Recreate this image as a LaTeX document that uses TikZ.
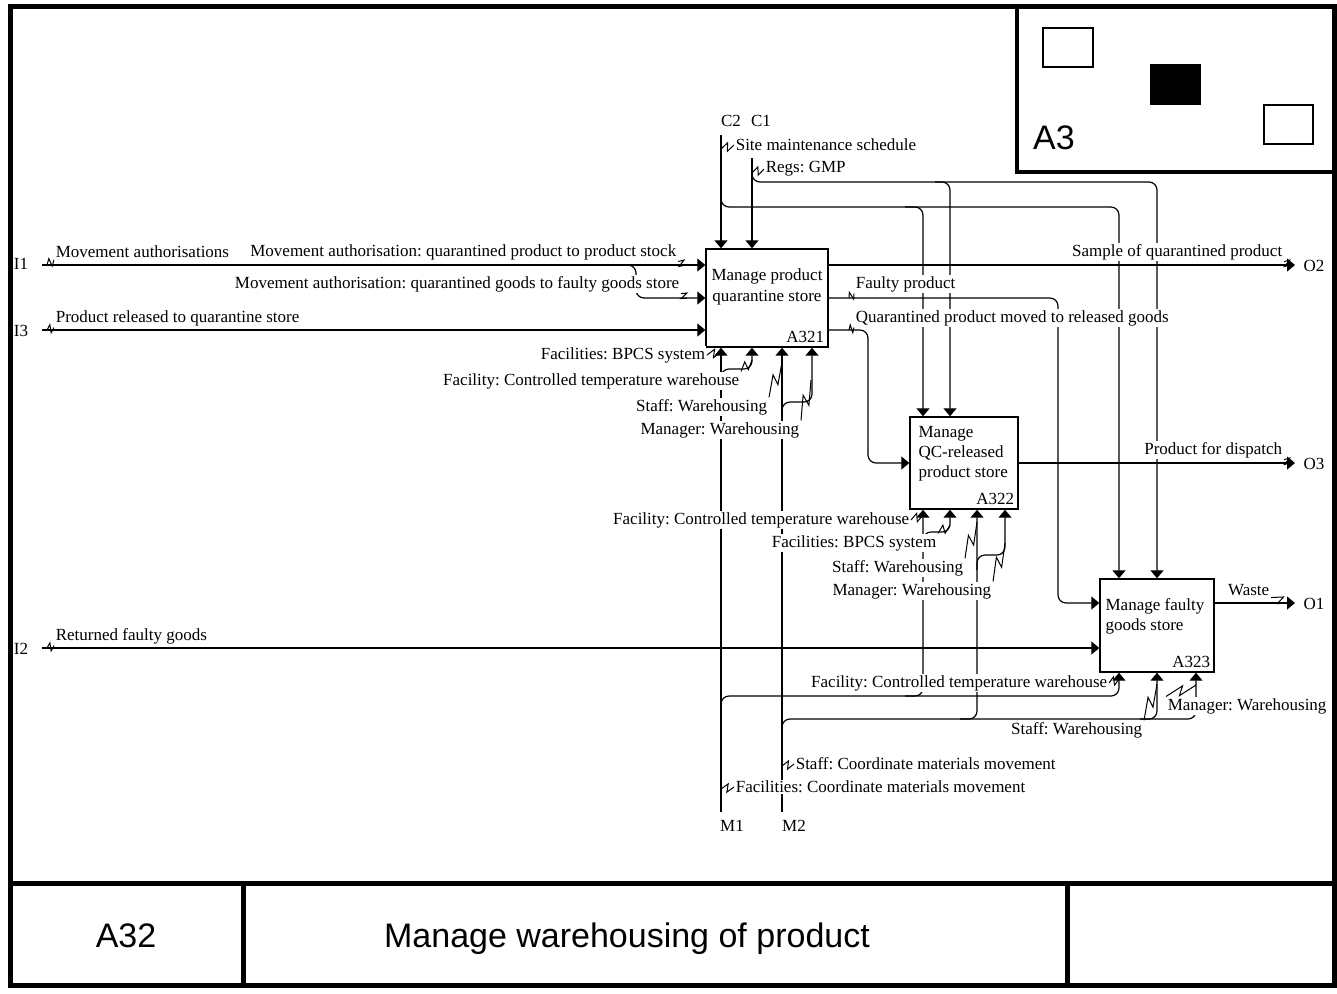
\documentclass[tikz,border=0pt]{standalone}
\usepackage{fontspec}
\setmainfont{Liberation Serif}
\newfontfamily\titlefont{Liberation Sans}
\usetikzlibrary{calc,arrows.meta}
\frenchspacing

\newcommand{\squig}[2]{\draw[line width=0.5pt] (#1) -- ($(#1)!0.6!(#2)!2pt!90:(#2)$) -- ($(#1)!0.4!(#2)!2pt!-90:(#2)$) -- (#2);}

\begin{document}
\begin{tikzpicture}[x=0.5pt,y=-0.5pt,line width=0.6pt,
  font=\fontsize{8.5}{10.5}\selectfont,
  proc/.style={draw,line width=0.7pt,inner sep=0pt},
  arr/.style={-{Triangle[length=4pt,width=6.5pt]}},
  lbl/.style={fill=white,inner sep=0.6pt},
  big/.style={font=\titlefont\fontsize{17}{20}\selectfont}]
  \useasboundingbox (0,0) rectangle (1337,993);
  % frame and title block
  \draw[line width=2.5pt] (10,6) rectangle (1334,985);
  \draw[line width=2.5pt] (10,883) -- (1334,883) (243,883) -- (243,985) (1067,883) -- (1067,985);
  \node[big,anchor=base] (num) at (126,947) {A32};
  \node[big,anchor=base] (title) at (627,947) {Manage warehousing of product};
  % parent diagram
  \draw[line width=2pt] (1017,6) -- (1017,172) -- (1334,172);
  \draw[line width=1pt] (1043,28) rectangle (1093,67) (1264,105) rectangle (1313,144);
  \fill (1150,64) rectangle (1201,105);
  \node[big] (parent) at (1054,138) {A3};

  % activities
  \node[proc,minimum width=61pt,minimum height=49pt] (a321) at (767,298) {};
  \node[proc,minimum width=54pt,minimum height=46pt] (a322) at (964,463) {};
  \node[proc,minimum width=57pt,minimum height=46.5pt] (a323) at (1157,625.5) {};
  \node[align=center] (t321) at (767,287) {Manage product\\quarantine store};
  \node[align=left,anchor=north west,inner sep=0pt,font=\fontsize{8.5}{10}\selectfont] (t322) at (918,426) {Manage\\QC-released\\product store};
  \node[align=left,anchor=north west,inner sep=0pt,font=\fontsize{8.5}{10}\selectfont] (t323) at (1105,598) {Manage faulty\\goods store};
  \node[anchor=south east,inner sep=2pt] (n321) at (a321.south east) {A321};
  \node[anchor=south east,inner sep=2pt] (n322) at (a322.south east) {A322};
  \node[anchor=south east,inner sep=2pt] (n323) at (a323.south east) {A323};

  % boundary ends
  \coordinate (i1) at (42,265);
  \coordinate (i3) at (42,330);
  \coordinate (i2) at (42,648);
  \coordinate (c2) at (721,135);
  \coordinate (c1) at (752,158);
  \coordinate (m1) at (721,812);
  \coordinate (m2) at (782,812);
  \coordinate (o2) at (1295,265);
  \coordinate (o3) at (1295,463);
  \coordinate (o1) at (1295,603);
  \node (li1) at (21,264) {I1};
  \node (li3) at (21,331) {I3};
  \node (li2) at (21,649) {I2};
  \node (lc2) at (731,121) {C2};
  \node (lc1) at (761,121) {C1};
  \node (lm1) at (732,826) {M1};
  \node (lm2) at (794,826) {M2};
  \node (lo2) at (1314,266) {O2};
  \node (lo3) at (1314,464) {O3};
  \node (lo1) at (1314,604) {O1};

  % inputs
  \draw[arr] (i1) -- (i1 -| a321.west);
  \draw[arr,rounded corners=4pt] (620,265) -| (636,298) -- (a321.west |- 0,298);
  \draw[arr] (i3) -- (i3 -| a321.west);
  \draw[arr] (i2) -- (i2 -| a323.west);
  % controls
  \draw[arr] (c2) -- (c2 |- a321.north);
  \draw[arr] (c1) -- (c1 |- a321.north);
  \draw[arr,rounded corners=4pt] (721,185) |- (1119,207) -- (a323.north -| 1119,0);
  \draw[arr,rounded corners=4pt] (905,207) -| (a322.north -| 923,0);
  \draw[arr,rounded corners=4pt] (752,165) |- (1157,182) -- (a323.north -| 1157,0);
  \draw[arr,rounded corners=4pt] (935,182) -| (a322.north -| 950,0);
  % outputs
  \draw[arr] (a321.east |- o2) -- (o2);
  \draw[arr,rounded corners=4pt] (a321.east |- 0,298) -| (1058,603) -- (a323.west |- 0,603);
  \draw[arr,rounded corners=4pt] (a321.east |- 0,330) -| (868,463) -- (a322.west |- 0,463);
  \draw[arr] (a322.east |- o3) -- (o3);
  \draw[arr] (a323.east |- o1) -- (o1);
  % mechanisms
  \draw[arr] (m1) -- (m1 |- a321.south);
  \draw[arr] (m2) -- (m2 |- a321.south);
  \draw[arr,rounded corners=4pt] (721,385) |- (752,369) -- (a321.south -| 752,0);
  \draw[arr,rounded corners=4pt] (782,412) |- (812,402) -- (a321.south -| 812,0);
  \draw[arr,rounded corners=4pt] (721,720) |- (1119,696) -- (a323.south -| 1119,0);
  \draw[arr,rounded corners=4pt] (905,696) -| (a322.south -| 923,0);
  \draw[arr,rounded corners=4pt] (923,548) |- (950,532) -- (a322.south -| 950,0);
  \draw[arr,rounded corners=4pt] (782,740) |- (1157,719) -- (a323.south -| 1157,0);
  \draw[arr,rounded corners=4pt] (960,719) -| (a322.south -| 977,0);
  \draw[arr,rounded corners=4pt] (977,570) |- (1005,555) -- (a322.south -| 1005,0);
  \draw[arr,rounded corners=4pt] (1140,719) -| (a323.south -| 1196,0);

  % arrow labels
  \node[lbl,anchor=west] (l1) at (54,252) {Movement authorisations};
  \node[lbl,anchor=east] (l2) at (678,252) {Movement authorisation: quarantined product to product stock};
  \node[lbl,anchor=east] (l3) at (681,284) {Movement authorisation: quarantined goods to faulty goods store};
  \node[lbl,anchor=west] (l4) at (54,318) {Product released to quarantine store};
  \node[lbl,anchor=west] (l5) at (54,636) {Returned faulty goods};
  \node[lbl,anchor=west] (l6) at (734,145) {Site maintenance schedule};
  \node[lbl,anchor=west] (l7) at (764,169) {Regs: GMP};
  \node[lbl,anchor=east] (l8) at (1284,252) {Sample of quarantined product};
  \node[lbl,anchor=west] (l9) at (854,284) {Faulty product};
  \node[lbl,anchor=west] (l10) at (854,318) {Quarantined product moved to released goods};
  \node[lbl,anchor=east] (l11) at (1284,450) {Product for dispatch};
  \node[lbl,anchor=east] (l12) at (1271,590) {Waste};
  \node[lbl,anchor=east] (l13) at (707,355) {Facilities: BPCS system};
  \node[lbl,anchor=east] (l14) at (741,381) {Facility: Controlled temperature warehouse};
  \node[lbl,anchor=east] (l15) at (769,407) {Staff: Warehousing};
  \node[lbl,anchor=east] (l16) at (801,430) {Manager: Warehousing};
  \node[lbl,anchor=east] (l17) at (911,520) {Facility: Controlled temperature warehouse};
  \node[lbl,anchor=east] (l18) at (938,543) {Facilities: BPCS system};
  \node[lbl,anchor=east] (l19) at (965,568) {Staff: Warehousing};
  \node[lbl,anchor=east] (l20) at (993,591) {Manager: Warehousing};
  \node[lbl,anchor=east] (l21) at (1109,683) {Facility: Controlled temperature warehouse};
  \node[lbl,anchor=east] (l22) at (1144,730) {Staff: Warehousing};
  \node[lbl,anchor=west] (l23) at (1166,706) {Manager: Warehousing};
  \node[lbl,anchor=west] (l24) at (794,764) {Staff: Coordinate materials movement};
  \node[lbl,anchor=west] (l25) at (734,787) {Facilities: Coordinate materials movement};

  % squiggles
  \squig{47,265}{l1.south west}
  \squig{l2.south east}{685,265}
  \squig{l3.south east}{687,298}
  \squig{47,330}{l4.south west}
  \squig{47,648}{l5.south west}
  \squig{721,149}{l6.west}
  \squig{752,173}{l7.west}
  \squig{l8.south east}{1290,265}
  \squig{849,298}{l9.south west}
  \squig{849,330}{l10.south west}
  \squig{l11.south east}{1290,463}
  \squig{l12.south east}{1290,603}
  \squig{l13.east}{721,352}
  \squig{l14.north east}{752,360}
  \squig{l15.north east}{782,362}
  \squig{l16.north east}{811,380}
  \squig{l17.east}{923,515}
  \squig{l18.north east}{950,525}
  \squig{l19.north east}{977,522}
  \squig{l20.north east}{1005,543}
  \squig{l21.east}{1119,679}
  \squig{l22.north east}{1157,684}
  \squig{l23.north west}{1196,685}
  \squig{782,766}{l24.west}
  \squig{721,789}{l25.west}
\end{tikzpicture}
\end{document}
